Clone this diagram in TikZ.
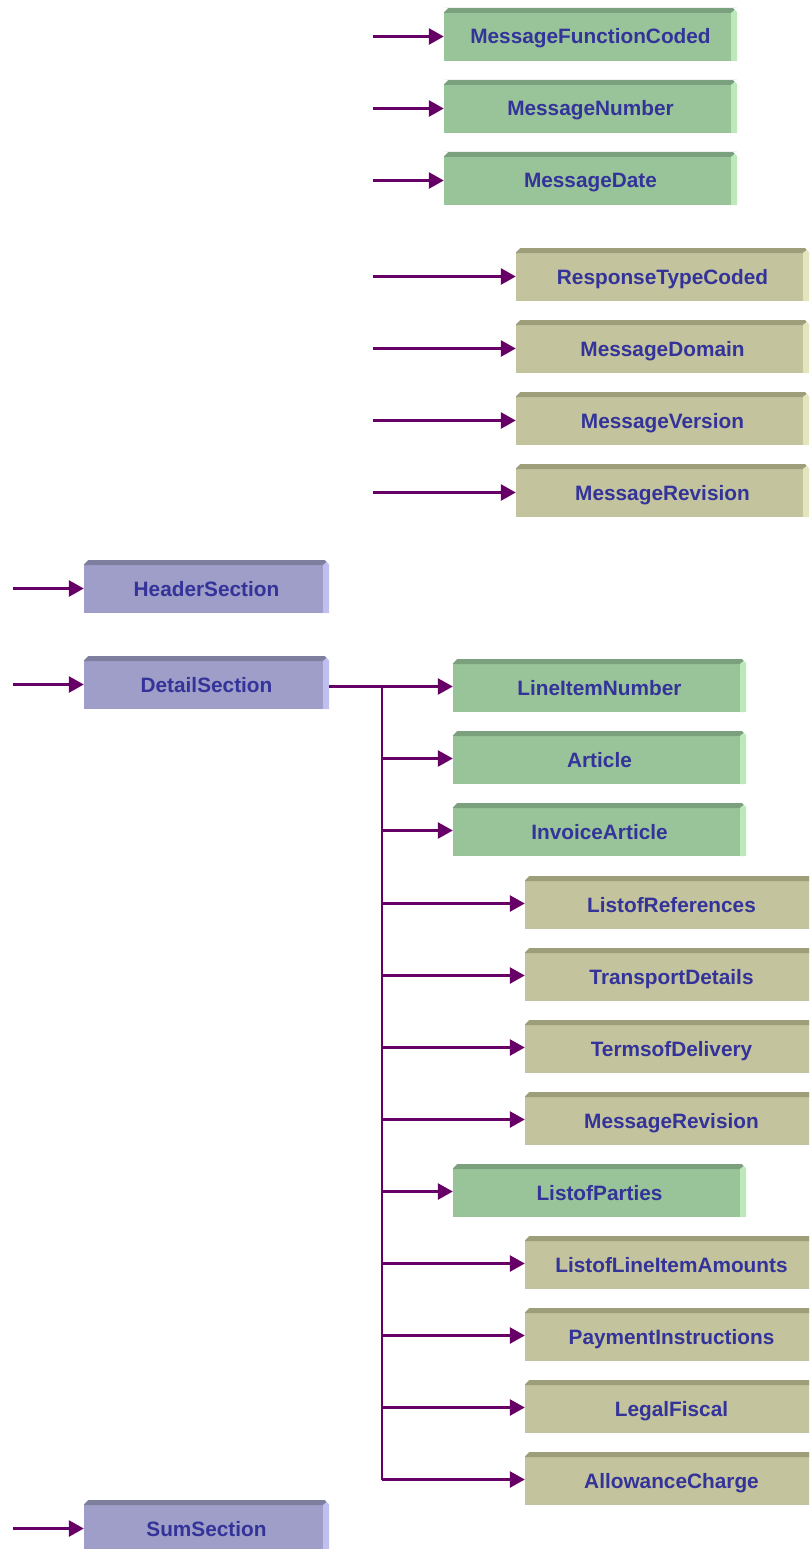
\documentclass[tikz,border=0pt]{standalone}
\usepackage{fontspec}
\setmainfont{Liberation Sans}
\usetikzlibrary{arrows.meta}

\definecolor{grnF}{RGB}{153,196,153}
\definecolor{grnT}{RGB}{122,160,125}
\definecolor{grnR}{RGB}{188,232,186}
\definecolor{tanF}{RGB}{195,195,157}
\definecolor{tanT}{RGB}{158,158,122}
\definecolor{tanR}{RGB}{228,228,190}
\definecolor{purF}{RGB}{158,158,200}
\definecolor{purT}{RGB}{126,126,158}
\definecolor{purR}{RGB}{192,192,238}
\definecolor{lbl}{RGB}{51,51,153}
\definecolor{wire}{RGB}{102,0,102}

\tikzset{
  bevel/.style 2 args={path picture={
    \fill[#1] (path picture bounding box.north west) -- (path picture bounding box.north east)
      -- ([xshift=-6pt,yshift=-5pt]path picture bounding box.north east)
      -- ([yshift=-5pt]path picture bounding box.north west) -- cycle;
    \fill[#2] (path picture bounding box.north east) -- (path picture bounding box.south east)
      -- ([xshift=-6pt]path picture bounding box.south east)
      -- ([xshift=-6pt,yshift=-5pt]path picture bounding box.north east) -- cycle;
    \fill[white] (path picture bounding box.north west) -- ([xshift=4pt]path picture bounding box.north west)
      -- ([yshift=-4pt]path picture bounding box.north west) -- cycle;
    \fill[white] (path picture bounding box.north east) -- ([xshift=-4pt]path picture bounding box.north east)
      -- ([yshift=-4pt]path picture bounding box.north east) -- cycle;
  }},
  block/.style={rectangle, inner sep=0pt, minimum height=53pt, text=lbl,
    font=\fontsize{20.8}{24}\selectfont\bfseries, text height=21pt, text depth=2pt},
  gbox/.style={block, fill=grnF, bevel={grnT}{grnR}, minimum width=293pt},
  tbox/.style={block, fill=tanF, bevel={tanT}{tanR}, minimum width=293pt},
  pbox/.style={block, fill=purF, bevel={purT}{purR}, minimum width=245pt},
  wirearrow/.style={draw=wire, line width=2.7pt, -{Triangle[length=15pt,width=16pt]}},
  wireline/.style={draw=wire, line width=2.7pt},
}

\begin{document}
\begin{tikzpicture}[x=1pt,y=-1pt]
\useasboundingbox (0,0) rectangle (809,1549);
\clip (0,0) rectangle (809,1549);

% message header elements
\node[gbox] (mfc)   at (590.5,34.5)  {MessageFunctionCoded};
\node[gbox] (mnum)  at (590.5,106.5) {MessageNumber};
\node[gbox] (mdate) at (590.5,178.5) {MessageDate};
\node[tbox] (rtc)   at (662.5,274.5) {ResponseTypeCoded};
\node[tbox] (mdom)  at (662.5,346.5) {MessageDomain};
\node[tbox] (mver)  at (662.5,418.5) {MessageVersion};
\node[tbox] (mrev)  at (662.5,490.5) {MessageRevision};

% sections
\node[pbox] (hdr) at (206.5,586.5)  {HeaderSection};
\node[pbox] (det) at (206.5,682.5)  {DetailSection};
\node[pbox] (sum) at (206.5,1526.5) {SumSection};

% detail children
\node[gbox] (lin)   at (599.5,685.5)  {LineItemNumber};
\node[gbox] (art)   at (599.5,757.5)  {Article};
\node[gbox] (inv)   at (599.5,829.5)  {InvoiceArticle};
\node[tbox] (lref)  at (671.5,902.5)  {ListofReferences};
\node[tbox] (trd)   at (671.5,974.5)  {TransportDetails};
\node[tbox] (tod)   at (671.5,1046.5) {TermsofDelivery};
\node[tbox] (mrev2) at (671.5,1118.5) {MessageRevision};
\node[gbox] (lpar)  at (599.5,1190.5) {ListofParties};
\node[tbox] (llia)  at (671.5,1262.5) {ListofLineItemAmounts};
\node[tbox] (pay)   at (671.5,1334.5) {PaymentInstructions};
\node[tbox] (leg)   at (671.5,1406.5) {LegalFiscal};
\node[tbox] (allow) at (671.5,1478.5) {AllowanceCharge};

% entry points (arrow ends) on each box
\foreach \n in {mfc,mnum,mdate,rtc,mdom,mver,mrev,hdr,det,sum}
  \coordinate (\n-in) at ([yshift=-2pt]\n.west);
\foreach \n in {lin,art,inv,lref,trd,tod,mrev2,lpar,llia,pay,leg,allow}
  \coordinate (\n-in) at ([yshift=-1pt]\n.west);

% free arrow starts
\coordinate (s1) at (373,0);
\coordinate (s0) at (13,0);

\foreach \n in {mfc,mnum,mdate,rtc,mdom,mver,mrev}
  \draw[wirearrow] (s1 |- \n-in) -- (\n-in);
\foreach \n in {hdr,det,sum}
  \draw[wirearrow] (s0 |- \n-in) -- (\n-in);

% detail tree
\coordinate (tr) at (382,0);
\draw[wirearrow] (det.east |- lin-in) -- (lin-in);
\draw[wireline] (tr |- lin-in) -- (tr |- allow-in);
\foreach \n in {art,inv,lref,trd,tod,mrev2,lpar,llia,pay,leg,allow}
  \draw[wirearrow] (tr |- \n-in) -- (\n-in);
\end{tikzpicture}
\end{document}
